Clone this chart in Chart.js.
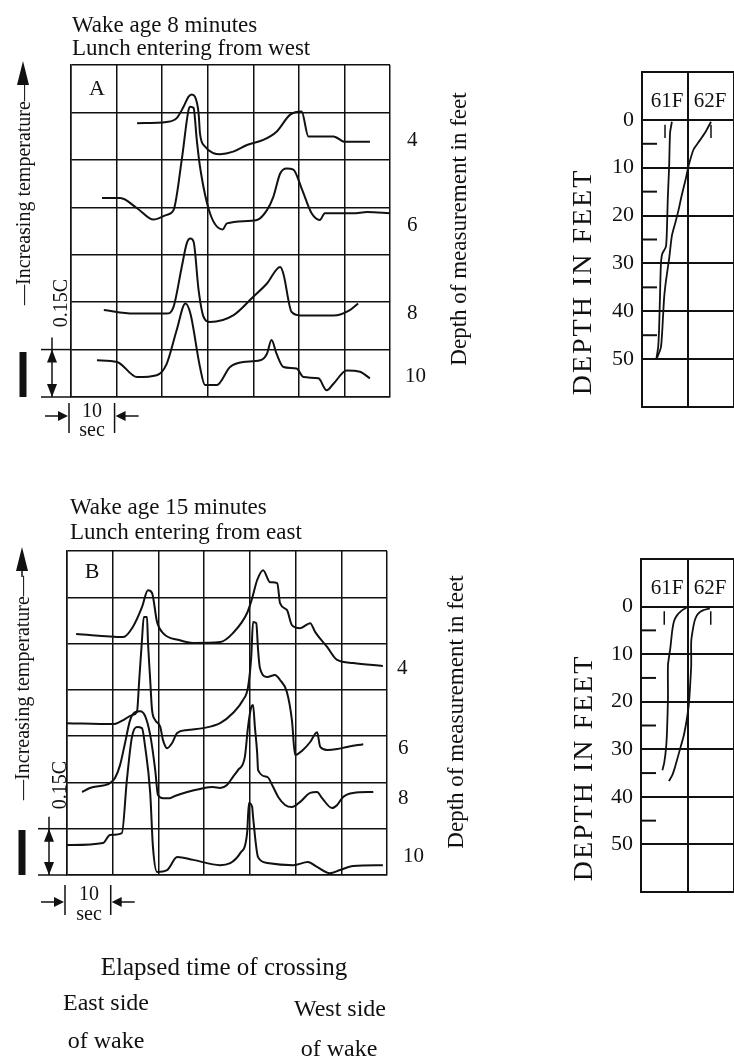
<!DOCTYPE html>
<html>
<head>
<meta charset="utf-8">
<script src="https://cdn.jsdelivr.net/npm/chart.js@4.4.1/dist/chart.umd.min.js"></script>
<style>
  html, body { margin: 0; padding: 0; background: #fff; overflow: hidden; }
  body { width: 734px; height: 1061px; position: relative; font-family: 'Liberation Serif', 'DejaVu Serif', serif; color: #111; }
  canvas { position: absolute; left: 0; top: 0; }
  .lbl { position: absolute; white-space: nowrap; line-height: 1; }
</style>
</head>
<body>
<canvas id="panelA" width="734" height="1061"></canvas>
<canvas id="panelB" width="734" height="1061"></canvas>
<canvas id="profA" width="734" height="1061"></canvas>
<canvas id="profB" width="734" height="1061"></canvas>
<script>
// grid: one column = 10 sec, one row = 0.15 C
const timeGrid = [0, 10, 20, 30, 40, 50, 60, 70];
const tempGrid = [0, 0.15, 0.30, 0.45, 0.60, 0.75, 0.90, 1.05];
const depthGrid = [-10, 0, 10, 20, 30, 40, 50, 60];
const depthLabels = [0, 10, 20, 30, 40, 50];
const depthMinor = [5, 15, 25, 35, 45];
const profileGrid = [60.5, 61.5, 62.5];
const profileTemps = [61, 62];

// A: wake age 8 minutes (time in sec, temperature trace with offset in C)
const aTime4 = [14.5, 21.0, 23.2, 24.7, 25.8, 26.5, 27.2, 28.0, 28.3, 29.4, 31.3, 32.7, 35.6, 38.6, 42.2, 45.1, 48.1, 50.6, 52.1, 57.6, 60.1, 65.6];
const aTemp4 = [0.866, 0.870, 0.882, 0.918, 0.950, 0.957, 0.950, 0.897, 0.834, 0.792, 0.771, 0.768, 0.776, 0.797, 0.813, 0.839, 0.893, 0.903, 0.824, 0.824, 0.807, 0.807];
const aTime6 = [6.8, 10.8, 14.5, 18.1, 21.0, 22.5, 24.3, 25.8, 26.2, 26.9, 27.6, 28.3, 30.5, 33.3, 34.2, 40.8, 43.0, 44.4, 45.9, 47.3, 48.8, 50.6, 52.8, 54.6, 55.7, 61.9, 65.0, 70.0];
const aTemp6 = [0.629, 0.629, 0.597, 0.561, 0.576, 0.591, 0.750, 0.908, 0.918, 0.914, 0.813, 0.729, 0.581, 0.530, 0.549, 0.560, 0.591, 0.633, 0.707, 0.723, 0.719, 0.660, 0.581, 0.560, 0.581, 0.581, 0.585, 0.581];
const aTime8 = [7.2, 13.7, 21.0, 22.5, 24.3, 25.4, 26.2, 26.9, 28.0, 29.1, 30.5, 35.6, 40.0, 43.0, 45.9, 46.6, 48.4, 50.3, 57.6, 61.2, 63.0];
const aTemp8 = [0.275, 0.264, 0.264, 0.285, 0.411, 0.486, 0.501, 0.491, 0.338, 0.253, 0.237, 0.258, 0.317, 0.359, 0.411, 0.390, 0.269, 0.258, 0.258, 0.275, 0.296];
const aTime10 = [5.7, 10.1, 14.5, 18.8, 21.0, 23.2, 25.1, 26.2, 28.3, 29.4, 32.0, 34.9, 37.8, 41.5, 43.0, 44.0, 45.1, 46.6, 49.5, 51.0, 54.3, 56.1, 57.6, 60.5, 63.4, 65.6];
const aTemp10 = [0.116, 0.111, 0.063, 0.069, 0.105, 0.212, 0.296, 0.264, 0.095, 0.038, 0.038, 0.095, 0.111, 0.116, 0.137, 0.180, 0.137, 0.095, 0.090, 0.063, 0.059, 0.021, 0.042, 0.084, 0.080, 0.059];

// B: wake age 15 minutes
const bTime4 = [2.0, 12.3, 14.4, 16.4, 17.7, 18.6, 19.7, 21.0, 24.7, 27.6, 33.5, 36.3, 39.4, 40.5, 41.6, 42.9, 44.4, 46.0, 46.6, 48.1, 49.2, 51.0, 53.2, 54.3, 56.9, 59.1, 62.6, 69.1];
const bTemp4 = [0.781, 0.771, 0.804, 0.868, 0.923, 0.914, 0.820, 0.784, 0.761, 0.752, 0.755, 0.784, 0.849, 0.897, 0.956, 0.988, 0.949, 0.946, 0.881, 0.859, 0.810, 0.800, 0.816, 0.787, 0.739, 0.697, 0.687, 0.677];
const bTime6 = [0, 10.1, 12.3, 14.2, 15.3, 15.8, 16.4, 16.8, 17.5, 17.7, 18.2, 18.6, 19.3, 20.4, 21.0, 21.9, 23.0, 24.1, 26.3, 29.8, 33.5, 36.3, 38.5, 39.6, 40.3, 40.7, 41.4, 41.8, 42.2, 43.8, 45.5, 46.6, 48.1, 49.2, 49.9, 51.6, 53.2, 54.7, 55.4, 56.9, 59.1, 61.3, 64.8];
const bTemp6 = [0.492, 0.489, 0.502, 0.518, 0.528, 0.632, 0.761, 0.836, 0.836, 0.761, 0.632, 0.535, 0.502, 0.480, 0.437, 0.411, 0.428, 0.460, 0.470, 0.476, 0.492, 0.525, 0.567, 0.609, 0.706, 0.820, 0.816, 0.729, 0.671, 0.642, 0.648, 0.632, 0.593, 0.502, 0.389, 0.405, 0.431, 0.463, 0.415, 0.405, 0.408, 0.415, 0.424];
const bTime8 = [3.3, 5.0, 9.4, 10.5, 11.6, 12.7, 13.8, 14.9, 16.0, 17.1, 18.2, 19.3, 19.9, 21.0, 22.5, 23.6, 26.3, 29.1, 31.9, 33.5, 35.0, 36.3, 37.4, 38.9, 39.6, 40.3, 40.7, 41.1, 41.6, 41.8, 43.8, 45.1, 46.2, 47.7, 49.2, 51.0, 53.2, 54.7, 55.8, 58.0, 59.1, 60.4, 62.6, 67.0];
const bTemp8 = [0.269, 0.282, 0.298, 0.314, 0.356, 0.428, 0.502, 0.528, 0.531, 0.515, 0.454, 0.340, 0.259, 0.249, 0.249, 0.256, 0.269, 0.279, 0.285, 0.282, 0.292, 0.318, 0.340, 0.382, 0.480, 0.544, 0.551, 0.480, 0.395, 0.340, 0.318, 0.285, 0.253, 0.227, 0.220, 0.237, 0.266, 0.269, 0.249, 0.217, 0.227, 0.253, 0.266, 0.269];
const bTime10 = [0, 7.9, 9.4, 12.0, 13.1, 14.2, 15.3, 16.4, 17.1, 18.2, 18.8, 19.7, 21.9, 24.1, 27.6, 33.5, 37.9, 39.4, 39.8, 40.5, 40.7, 41.8, 43.8, 49.5, 52.7, 54.7, 57.5, 59.7, 62.6, 69.1];
const bTemp10 = [0.097, 0.104, 0.130, 0.136, 0.308, 0.447, 0.480, 0.476, 0.415, 0.266, 0.091, 0.010, 0.016, 0.058, 0.049, 0.032, 0.071, 0.136, 0.233, 0.220, 0.188, 0.058, 0.039, 0.032, 0.042, 0.026, 0.006, 0.016, 0.029, 0.032];

// temperature profiles (F vs depth in feet)
const pa1Temp = [61.15, 61.11, 61.09, 61.06, 61.04, 61.02, 60.94, 60.91, 60.89, 60.87, 60.85, 60.81];
const pa1Depth = [0.4, 2.7, 9.7, 16.6, 23.4, 26.5, 28.0, 30.4, 37.3, 44.1, 47.6, 50.1];
const pa2Temp = [62.0, 61.87, 61.72, 61.62, 61.51, 61.45, 61.36, 61.30, 61.23, 61.15, 61.09, 61.02, 60.98, 60.94, 60.91, 60.83];
const pa2Depth = [0.4, 2.7, 4.8, 6.2, 9.7, 12.4, 15.9, 18.6, 21.3, 24.2, 29.0, 33.7, 37.3, 44.1, 47.6, 49.7];
const pb1Temp = [61.48, 61.38, 61.27, 61.21, 61.17, 61.13, 61.08, 61.08, 61.06, 61.04, 61.00, 60.96];
const pb1Depth = [0.2, 0.8, 1.9, 3.1, 5.2, 8.8, 12.3, 19.2, 26.1, 29.6, 32.8, 34.4];
const pb2Temp = [61.98, 61.83, 61.73, 61.67, 61.63, 61.58, 61.58, 61.54, 61.52, 61.48, 61.42, 61.35, 61.29, 61.23, 61.17, 61.10];
const pb2Depth = [0.4, 0.8, 1.5, 2.5, 4.0, 7.3, 12.3, 19.2, 21.3, 24.0, 27.1, 29.6, 31.7, 33.8, 35.5, 36.7];

const W = 734, H = 1061;
const INK = '#111';
const AXIS_W = 50; // room kept for the depth tick labels
Chart.defaults.font.family = "'Liberation Serif', 'DejaVu Serif', serif";
Chart.defaults.color = INK;

function line(ctx, x1, y1, x2, y2) {
  ctx.beginPath(); ctx.moveTo(x1, y1); ctx.lineTo(x2, y2); ctx.stroke();
}
// filled arrow head, tip at (x, y)
function tri(ctx, x, y, dir, hw, len) {
  ctx.beginPath();
  ctx.moveTo(x, y);
  if (dir === 'up') { ctx.lineTo(x - hw, y + len); ctx.lineTo(x + hw, y + len); }
  if (dir === 'down') { ctx.lineTo(x - hw, y - len); ctx.lineTo(x + hw, y - len); }
  if (dir === 'right') { ctx.lineTo(x - len, y - hw); ctx.lineTo(x - len, y + hw); }
  if (dir === 'left') { ctx.lineTo(x + len, y - hw); ctx.lineTo(x + len, y + hw); }
  ctx.closePath(); ctx.fill();
}

const panelDeco = {
  id: 'panelDeco',
  afterDraw(chart, args, o) {
    const { ctx, chartArea: ca, scales: { x, y } } = chart;
    ctx.save();
    ctx.strokeStyle = INK; ctx.fillStyle = INK; ctx.lineWidth = 1.5;
    // "increasing temperature" arrow
    tri(ctx, o.arrowX, ca.top - 4, 'up', 6, 24);
    line(ctx, o.arrowX, ca.top + 18, o.arrowX, o.textTop);
    ctx.lineWidth = 7;
    line(ctx, o.arrowX, ca.bottom - 45, o.arrowX, ca.bottom);
    // 0.15 C bracket
    ctx.lineWidth = 1.5;
    const y0 = y.getPixelForValue(tempGrid[0]), y1 = y.getPixelForValue(tempGrid[1]);
    line(ctx, o.barX - 11, y0, ca.left, y0);
    line(ctx, o.barX - 11, y1, ca.left, y1);
    line(ctx, o.barX, y1 - 12, o.barX, y0);
    tri(ctx, o.barX, y1, 'up', 5, 13);
    tri(ctx, o.barX, y0, 'down', 5, 13);
    // 10 sec marker
    const x0 = x.getPixelForValue(timeGrid[0]) - 2, x1 = x.getPixelForValue(timeGrid[1]) - 2;
    const mt = ca.bottom + o.markTop, my = ca.bottom + o.markArrow;
    line(ctx, x0, mt, x0, mt + 30);
    line(ctx, x1, mt, x1, mt + 30);
    line(ctx, x0 - 24, my, x0 - 6, my); tri(ctx, x0 - 1, my, 'right', 5, 10);
    line(ctx, x1 + 24, my, x1 + 6, my); tri(ctx, x1 + 1, my, 'left', 5, 10);
    ctx.restore();
  }
};

const profileDeco = {
  id: 'profileDeco',
  afterDraw(chart) {
    const { ctx, chartArea: ca, scales: { x, y } } = chart;
    ctx.save();
    ctx.strokeStyle = INK; ctx.lineWidth = 2;
    depthMinor.forEach(d => {
      const py = y.getPixelForValue(d);
      line(ctx, ca.left, py, ca.left + 15, py);
    });
    ctx.lineWidth = 1.5;
    profileTemps.forEach(t => {
      const px = x.getPixelForValue(t);
      line(ctx, px, y.getPixelForValue(1), px, y.getPixelForValue(3.8));
    });
    ctx.restore();
  }
};

function trace(xs, ys) {
  return {
    data: xs.map((v, i) => ({ x: v, y: ys[i] })),
    showLine: true, borderColor: INK, borderWidth: 2, pointRadius: 0,
    cubicInterpolationMode: 'monotone', fill: false
  };
}
function profile(temps, depths) {
  return {
    data: temps.map((v, i) => ({ x: v, y: depths[i] })),
    showLine: true, borderColor: INK, borderWidth: 1.8, pointRadius: 0,
    tension: 0.2, fill: false
  };
}
const fixedTicks = list => s => { s.ticks = list.map(v => ({ value: v })); };
const padFor = (a, yw = 0) => ({ left: a.l - yw, top: a.t, right: W - a.r, bottom: H - a.b });

function panelChart(id, area, sets, deco) {
  const grid = { color: INK, lineWidth: 1.5, drawTicks: false };
  return new Chart(document.getElementById(id), {
    type: 'scatter',
    data: { datasets: sets },
    options: {
      responsive: false, animation: false, events: [],
      layout: { padding: padFor(area) },
      plugins: { legend: { display: false }, tooltip: { enabled: false }, panelDeco: deco },
      scales: {
        x: { type: 'linear', min: 0, max: 70, afterBuildTicks: fixedTicks(timeGrid), afterFit: s => { s.height = 0; },
             ticks: { display: false }, grid: grid, border: { color: INK, width: 1.5 } },
        y: { type: 'linear', min: 0, max: 1.05, afterBuildTicks: fixedTicks(tempGrid), afterFit: s => { s.width = 0; },
             ticks: { display: false }, grid: grid, border: { color: INK, width: 1.5 } }
      }
    },
    plugins: [panelDeco]
  });
}

function profileChart(id, area, sets) {
  const grid = { color: INK, lineWidth: 2, drawTicks: false };
  return new Chart(document.getElementById(id), {
    type: 'scatter',
    data: { datasets: sets },
    options: {
      responsive: false, animation: false, events: [],
      layout: { padding: padFor(area, AXIS_W) },
      plugins: { legend: { display: false }, tooltip: { enabled: false } },
      scales: {
        x: { type: 'linear', min: 60.5, max: 62.5, afterBuildTicks: fixedTicks(profileGrid), afterFit: s => { s.height = 0; },
             ticks: { display: false }, grid: grid, border: { color: INK, width: 2 } },
        y: { type: 'linear', reverse: true, min: -10, max: 60, afterBuildTicks: fixedTicks(depthGrid), afterFit: s => { s.width = AXIS_W; },
             ticks: { padding: 8, color: INK, autoSkip: false, font: { size: 22 }, callback: v => depthLabels.includes(v) ? String(v) : '' },
             grid: grid, border: { color: INK, width: 2 } }
      }
    },
    plugins: [profileDeco]
  });
}

panelChart('panelA', { l: 71, r: 390, t: 65, b: 397 },
  [trace(aTime4, aTemp4), trace(aTime6, aTemp6), trace(aTime8, aTemp8), trace(aTime10, aTemp10)],
  { arrowX: 23, textTop: 82, barX: 52, markTop: 6, markArrow: 19 });
panelChart('panelB', { l: 67, r: 387, t: 551, b: 875 },
  [trace(bTime4, bTemp4), trace(bTime6, bTemp6), trace(bTime8, bTemp8), trace(bTime10, bTemp10)],
  { arrowX: 22, textTop: 577, barX: 49, markTop: 10, markArrow: 27 });
profileChart('profA', { l: 642, r: 734, t: 72, b: 407 }, [profile(pa1Temp, pa1Depth), profile(pa2Temp, pa2Depth)]);
profileChart('profB', { l: 641, r: 734, t: 559, b: 892 }, [profile(pb1Temp, pb1Depth), profile(pb2Temp, pb2Depth)]);

// text
function put(text, x, y, size, opt = {}) {
  const d = document.createElement('div');
  d.className = 'lbl';
  d.textContent = text;
  d.style.left = x + 'px';
  d.style.top = y + 'px';
  d.style.fontSize = size + 'px';
  let t = opt.left ? 'translate(0,-50%)' : 'translate(-50%,-50%)';
  if (opt.rot) t += ' rotate(-90deg)';
  d.style.transform = t;
  if (opt.ls) d.style.letterSpacing = opt.ls + 'px';
  document.body.appendChild(d);
}

put('Wake age 8 minutes', 72, 24, 23, { left: true });
put('Lunch entering from west', 72, 47, 23, { left: true });
put('A', 97, 88, 22);
put('4', 407, 139, 21, { left: true });
put('6', 407, 224, 21, { left: true });
put('8', 407, 312, 21, { left: true });
put('10', 405, 375, 21, { left: true });
put('Depth of measurement in feet', 458, 229, 23, { rot: true });
put('\u2014Increasing temperature\u2014', 23, 193, 20, { rot: true });
put('0.15C', 60, 303, 20, { rot: true });
put('10', 92, 410, 20);
put('sec', 92, 429, 20);

put('Wake age 15 minutes', 70, 506, 23, { left: true });
put('Lunch entering from east', 70, 531, 23, { left: true });
put('B', 92, 571, 22);
put('4', 397, 667, 21, { left: true });
put('6', 398, 747, 21, { left: true });
put('8', 398, 797, 21, { left: true });
put('10', 403, 855, 21, { left: true });
put('Depth of measurement in feet', 455, 712, 23, { rot: true });
put('\u2014Increasing temperature\u2014', 22, 688, 20, { rot: true });
put('0.15C', 59, 785, 20, { rot: true });
put('10', 89, 893, 20);
put('sec', 89, 913, 20);

put('Elapsed time of crossing', 224, 966, 25);
put('East side', 106, 1002, 24);
put('of wake', 106, 1040, 24);
put('West side', 340, 1008, 24);
put('of wake', 339, 1048, 24);

put('DEPTH IN FEET', 582, 282, 28, { rot: true, ls: 2 });
put('61F', 667, 100, 21);
put('62F', 710, 100, 21);
put('DEPTH IN FEET', 583, 768, 28, { rot: true, ls: 2 });
put('61F', 667, 587, 21);
put('62F', 710, 587, 21);
</script>
</body>
</html>
